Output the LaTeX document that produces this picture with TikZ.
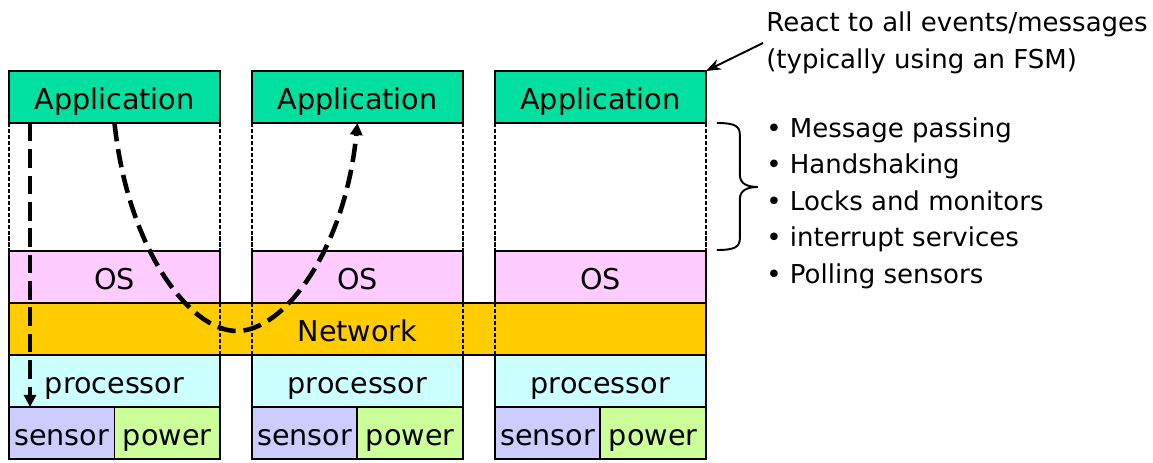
\documentclass[tikz,border=0pt]{standalone}
\usepackage{fontspec}
\setmainfont{DejaVu Sans}
\usepackage{tikz}
\usetikzlibrary{positioning, arrows.meta}

\definecolor{appgreen}{RGB}{0,224,160}
\definecolor{ospink}{RGB}{255,204,255}
\definecolor{netgold}{RGB}{255,204,0}
\definecolor{proccyan}{RGB}{204,255,255}
\definecolor{sensblue}{RGB}{204,204,255}
\definecolor{powgreen}{RGB}{204,255,153}

\tikzset{
  layer/.style={rectangle, draw=black, line width=1.1pt, outer sep=0pt, inner sep=1pt, minimum height=1.04cm, text height=0.6cm, text depth=0.08cm, font=\fontsize{16.3}{19}\selectfont},
  appbox/.style={layer, minimum width=4.22cm, fill=appgreen},
  osbox/.style={layer, minimum width=4.22cm, fill=ospink},
  procbox/.style={layer, minimum width=4.22cm, fill=proccyan},
  sensbox/.style={layer, minimum width=2.11cm, fill=sensblue},
  powbox/.style={layer, minimum width=2.11cm, fill=powgreen},
  netbox/.style={layer, minimum width=13.94cm, fill=netgold},
  sideline/.style={line width=0.85pt, dash pattern=on 2.3pt off 1.1pt},
  flow/.style={line width=2.6pt, dash pattern=on 10.5pt off 4.5pt, -{Triangle[length=0.24cm,width=0.24cm]}},
  callout/.style={line width=1.1pt, -{Stealth[length=0.3cm,width=0.22cm]}},
  bracepath/.style={line width=1.1pt},
  note/.style={align=left, inner sep=0.06cm, font=\fontsize{14.8}{20.8}\selectfont}
}

\begin{document}
\begin{tikzpicture}[x=0.02cm, y=-0.02cm]
    \useasboundingbox (0,0) rectangle (1153,463);

    % Column 1
    \node (app1) [appbox] at (114.5,97) {Application};
    \node (os1) [osbox, below=2.56cm of app1] {OS};
    \node (proc1) [procbox, below=1.04cm of os1] {processor};
    \node (sens1) [sensbox, anchor=north west] at (proc1.south west) {sensor};
    \node (pow1) [powbox, anchor=north east] at (proc1.south east) {power};

    % Column 2
    \node (app2) [appbox, right=0.64cm of app1] {Application};
    \node (os2) [osbox, below=2.56cm of app2] {OS};
    \node (proc2) [procbox, below=1.04cm of os2] {processor};
    \node (sens2) [sensbox, anchor=north west] at (proc2.south west) {sensor};
    \node (pow2) [powbox, anchor=north east] at (proc2.south east) {power};

    % Column 3
    \node (app3) [appbox, right=0.64cm of app2] {Application};
    \node (os3) [osbox, below=2.56cm of app3] {OS};
    \node (proc3) [procbox, below=1.04cm of os3] {processor};
    \node (sens3) [sensbox, anchor=north west] at (proc3.south west) {sensor};
    \node (pow3) [powbox, anchor=north east] at (proc3.south east) {power};

    % Network across all columns
    \node (net) [netbox, anchor=north west] at (os1.south west) {Network};

    % Column edges
    \draw [sideline] (app1.south west) -- (os1.north west);
    \draw [sideline] (app1.south east) -- (os1.north east);
    \draw [sideline] (app2.south west) -- (os2.north west);
    \draw [sideline] (app2.south east) -- (os2.north east);
    \draw [sideline] (app3.south west) -- (os3.north west);
    \draw [sideline] (app3.south east) -- (os3.north east);
    \draw [sideline] (os1.south east) -- (proc1.north east);
    \draw [sideline] (os2.south west) -- (proc2.north west);
    \draw [sideline] (os2.south east) -- (proc2.north east);
    \draw [sideline] (os3.south west) -- (proc3.north west);

    % Dashed flows
    \draw [flow] ([xshift=0.42cm]app1.south west) -- ([xshift=0.42cm]sens1.north west);
    \draw [flow] (app1.south) .. controls (128,250) and (190,331) .. (237,331)
        .. controls (284,331) and (345,250) .. (app2.south);

    % Notes on the right
    \node (react) [note, anchor=west] at (763,43) {React to all events/messages\\(typically using an FSM)};
    \draw [callout] (react.west) -- (app3.north east);
    \node (items) [note, anchor=west] at (763,203) {\textbullet\ Message passing\\\textbullet\ Handshaking\\\textbullet\ Locks and monitors\\\textbullet\ interrupt services\\\textbullet\ Polling sensors};
    \coordinate (bracetop) at ([xshift=0.22cm]app3.south east);
    \draw [bracepath] (bracetop) .. controls +(18,0) and +(0,-9) .. ++(23,12) -- ++(0,40)
        .. controls +(0,9) and +(-10,0) .. ++(18,12) .. controls +(-10,0) and +(0,-9) .. ++(-18,12)
        -- ++(0,39) .. controls +(0,9) and +(18,0) .. ++(-23,12);
\end{tikzpicture}
\end{document}
